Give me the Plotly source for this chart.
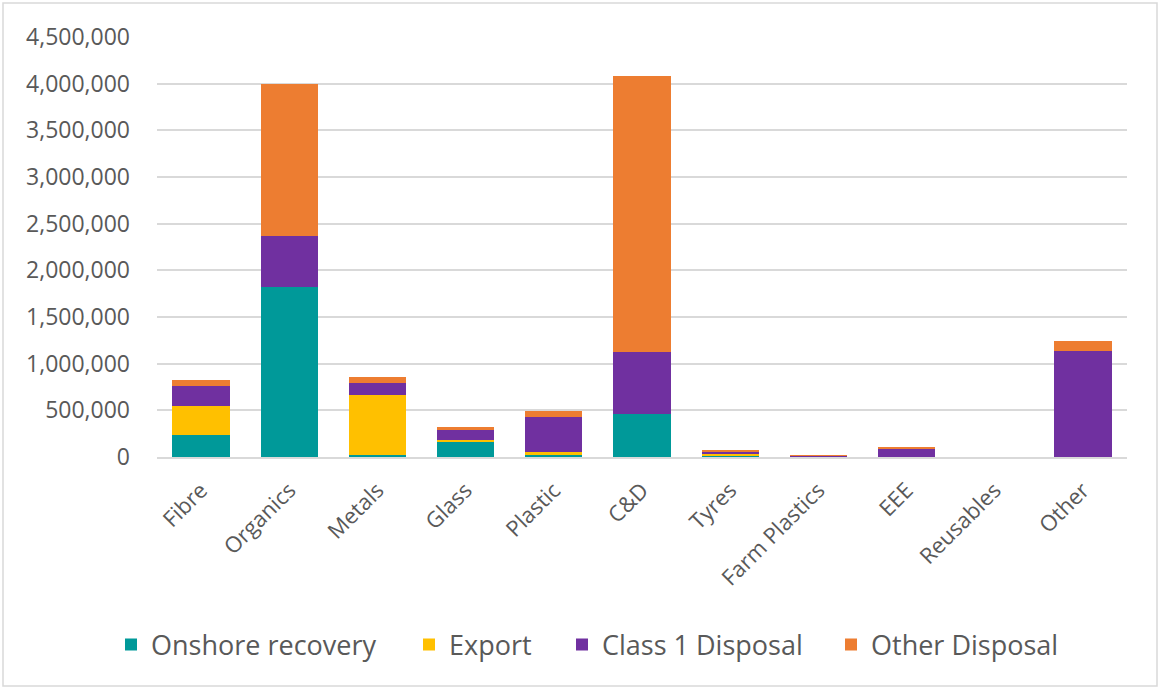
import plotly.graph_objects as go

# Waste stream categories and tonnages by destination
categories = ["Fibre", "Organics", "Metals", "Glass", "Plastic", "C&D",
              "Tyres", "Farm Plastics", "EEE", "Reusables", "Other"]
onshore_recovery = [232000, 1820000, 25000, 168000, 25000, 465000, 8000, 2000, 0, 0, 0]
export = [314000, 0, 640000, 14000, 25000, 0, 25000, 0, 5000, 0, 0]
class1_disposal = [214000, 550000, 128000, 115000, 378000, 660000, 29000, 15000, 85000, 0, 1140000]
other_disposal = [61000, 1630000, 64000, 21000, 64000, 2955000, 10000, 3000, 8000, 0, 107000]

y_ticks = [0, 500000, 1000000, 1500000, 2000000, 2500000, 3000000, 3500000, 4000000, 4500000]

series = [
    ("Onshore recovery", onshore_recovery, "#009999"),
    ("Export", export, "#FFC000"),
    ("Class 1 Disposal", class1_disposal, "#7030A0"),
    ("Other Disposal", other_disposal, "#ED7D31"),
]

font_family = "Open Sans, Noto Sans, sans-serif"
text_color = "#595959"

# Plot-area geometry in pixels
L, R, T, B = 157, 33, 37, 232
W, H = 1160, 689
pw, ph = W - L - R, H - T - B
def px(x):
    return (x - L) / pw
def py(y):
    return (H - B - y) / ph

# Left pixel edge of each legend swatch
legend_left = [126, 424, 577, 846]

fig = go.Figure()
legend_layouts = {}
for i, (name, values, color) in enumerate(series):
    key = "legend" if i == 0 else f"legend{i + 1}"
    fig.add_trace(go.Bar(
        name=name, x=categories, y=values,
        marker=dict(color=color, line=dict(width=0)),
        legend=key,
    ))
    legend_layouts[key] = dict(
        orientation="h",
        x=px(legend_left[i] - 15), xanchor="left",
        y=py(645), yanchor="middle",
        font=dict(size=27, color=text_color, family=font_family),
        bgcolor="rgba(0,0,0,0)",
        itemwidth=30,
    )

# Chart-area border around the whole figure
fig.add_shape(type="rect", xref="paper", yref="paper",
              x0=px(3), x1=px(1157), y0=py(686), y1=py(3),
              line=dict(color="#d9d9d9", width=1.5), fillcolor="rgba(0,0,0,0)",
              layer="below")

fig.update_layout(
    barmode="stack",
    bargap=0.35,
    width=W, height=H,
    margin=dict(l=L, r=R, t=T, b=B, pad=0),
    paper_bgcolor="white",
    plot_bgcolor="white",
    font=dict(family=font_family, size=23, color=text_color),
    showlegend=True,
    xaxis=dict(
        tickangle=-45,
        showgrid=False,
        showline=True, linecolor="#d9d9d9", linewidth=1.5,
        ticks="",
        ticklabelstandoff=10,
        tickfont=dict(size=22, color=text_color),
    ),
    yaxis=dict(
        range=[0, 4500000],
        tickvals=y_ticks,
        tickformat=",d",
        showgrid=True, gridcolor="#d9d9d9", gridwidth=1.5,
        zeroline=False,
        showline=False,
        ticks="",
        ticklabelstandoff=26,
        tickfont=dict(size=23, color=text_color),
    ),
    **legend_layouts,
)

fig.write_html("out.html")
